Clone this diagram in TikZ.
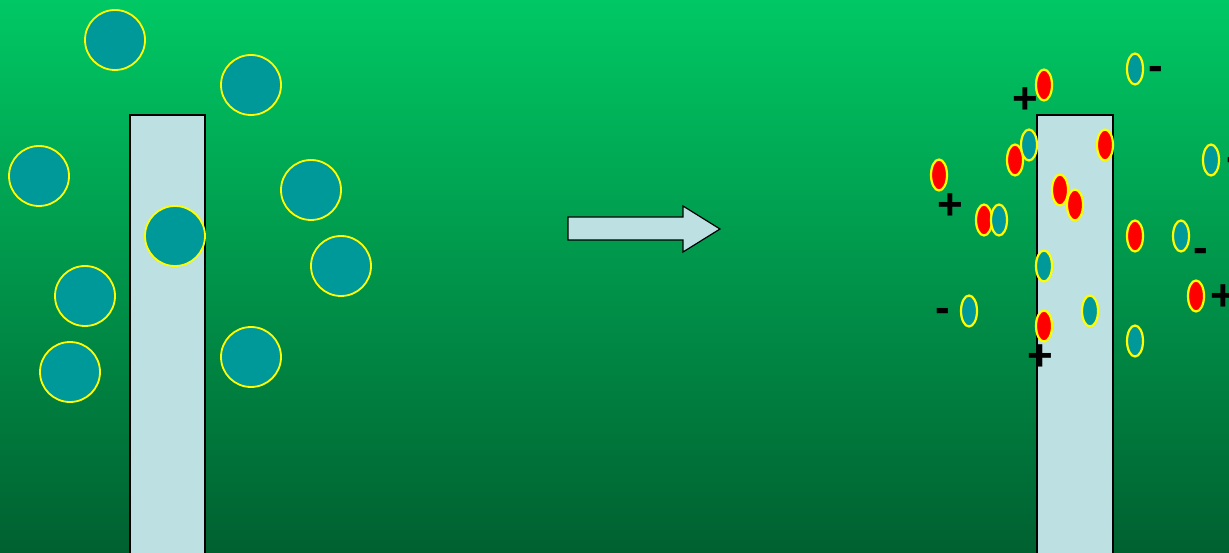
\documentclass[tikz,border=0pt]{standalone}
\usepackage{fontspec}
\setmainfont{Liberation Sans}
\usetikzlibrary{shapes.geometric}
\definecolor{bgtop}{RGB}{0,200,100}
\definecolor{bgbot}{RGB}{0,96,48}
\definecolor{teal}{RGB}{0,153,153}
\definecolor{bar}{RGB}{189,224,227}
\definecolor{ylw}{RGB}{255,255,0}
\definecolor{redion}{RGB}{255,0,0}
\tikzset{
  bigball/.style={circle,draw=ylw,fill=teal,line width=1.8pt,minimum size=60pt,inner sep=0pt},
  ionneg/.style={ellipse,draw=ylw,fill=teal,line width=2.2pt,minimum width=16pt,minimum height=31pt,inner sep=0pt},
  ionpos/.style={ellipse,draw=ylw,fill=redion,line width=2.2pt,minimum width=16pt,minimum height=31pt,inner sep=0pt},
  barbox/.style={draw=black,fill=bar,line width=1.5pt},
  sign/.style={font=\fontsize{44}{44}\selectfont\bfseries,inner sep=0pt,text=black},
}
\begin{document}
\begin{tikzpicture}[x=1pt,y=-1pt]
\useasboundingbox (0,0) rectangle (1229,553);
\shade[top color=bgtop,bottom color=bgbot] (0,0) rectangle (1229,553);
% left bar
\draw[barbox] (130,560) -- (130,115) -- (205,115) -- (205,560);
% left balls
\node[bigball] (b1) at (115,40) {};
\node[bigball] (b2) at (251,85) {};
\node[bigball] (b3) at (39,176) {};
\node[bigball] (b4) at (311,190) {};
\node[bigball] (b5) at (175,236) {};
\node[bigball] (b6) at (341,266) {};
\node[bigball] (b7) at (85,296) {};
\node[bigball] (b8) at (70,372) {};
\node[bigball] (b9) at (251,357) {};
% arrow
\draw[barbox,line width=1.2pt,line join=miter] (568,217) -- (683,217) -- (683,206) -- (720,229) -- (683,252) -- (683,240) -- (568,240) -- cycle;
% right bar
\draw[barbox] (1037,560) -- (1037,115) -- (1113,115) -- (1113,560);
% positive ions
\node[ionpos] (p1) at (1044,85) {};
\node[ionpos] (p2) at (939,175) {};
\node[ionpos] (p3) at (1015,160) {};
\node[ionpos] (p4) at (1105,145) {};
\node[ionpos] (p5) at (1060,190) {};
\node[ionpos] (p6) at (1075,205) {};
\node[ionpos] (p7) at (984,220) {};
\node[ionpos] (p8) at (1135,236) {};
\node[ionpos] (p9) at (1044,326) {};
\node[ionpos] (p10) at (1196,296) {};
% negative ions
\node[ionneg] (n1) at (1135,69) {};
\node[ionneg] (n2) at (1029,145) {};
\node[ionneg] (n3) at (1211,160) {};
\node[ionneg] (n4) at (999,220) {};
\node[ionneg] (n5) at (1181,236) {};
\node[ionneg] (n6) at (1044,266) {};
\node[ionneg] (n7) at (969,311) {};
\node[ionneg] (n8) at (1090,311) {};
\node[ionneg] (n9) at (1135,341) {};
% signs
\node[sign] (s1) at (1025,101) {+};
\node[sign] (s2) at (1156,73) {-};
\node[sign] (s3) at (950,207) {+};
\node[sign] (s4) at (1234,164) {-};
\node[sign] (s5) at (1201,255) {-};
\node[sign] (s6) at (1223,298) {+};
\node[sign] (s7) at (943,315) {-};
\node[sign] (s8) at (1040,358) {+};
\end{tikzpicture}
\end{document}
